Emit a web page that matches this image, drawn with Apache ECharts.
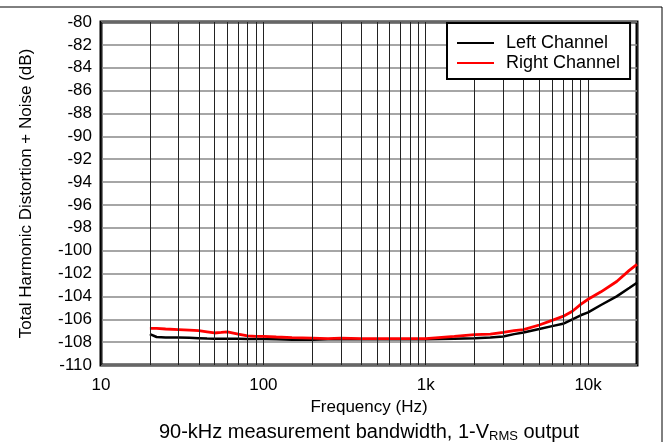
<!DOCTYPE html>
<html>
<head>
<meta charset="utf-8">
<script src="https://cdn.jsdelivr.net/npm/echarts@6/dist/echarts.min.js"></script>
<style>
  html, body { margin: 0; padding: 0; background: #fff; }
  #chart { width: 665px; height: 442px; }
</style>
</head>
<body>
<div id="chart"></div>
<script>
// frequency points (Hz)
var freqs = [20, 22, 25, 30, 35, 40, 45, 50, 55, 60, 70, 80, 90, 100, 120, 150, 200, 250, 300, 400,
             500, 600, 800, 1000, 1500, 2000, 2500, 3000, 3500, 4000, 5000, 6000, 7000, 8000, 9000,
             10000, 12000, 15000, 18000, 20000];
// THD+N (dB)
var leftCh = [-107.3, -107.55, -107.6, -107.6, -107.62, -107.65, -107.68, -107.7, -107.7, -107.7, -107.7, -107.72, -107.72, -107.72, -107.75, -107.8, -107.8, -107.75, -107.75, -107.75,
              -107.75, -107.75, -107.75, -107.75, -107.7, -107.65, -107.6, -107.5, -107.3, -107.15, -106.85, -106.6, -106.4, -106.0, -105.65,
              -105.4, -104.75, -104.0, -103.25, -102.8];
var rightCh = [-106.8, -106.8, -106.85, -106.9, -106.95, -107.0, -107.1, -107.2, -107.15, -107.1, -107.3, -107.45, -107.5, -107.5, -107.55, -107.6, -107.65, -107.7, -107.65, -107.7,
               -107.7, -107.7, -107.7, -107.7, -107.5, -107.35, -107.3, -107.15, -107.0, -106.9, -106.5, -106.1, -105.75, -105.3, -104.7,
               -104.25, -103.6, -102.7, -101.7, -101.2];
// minor log grid lines
var minorFreqs = [20, 30, 40, 50, 60, 70, 80, 90, 200, 300, 400, 500, 600, 700, 800, 900,
                  2000, 3000, 4000, 5000, 6000, 7000, 8000, 9000];
var xTickNames = { 10: '10', 100: '100', 1000: '1k', 10000: '10k' };

var FONT = 'Arial, "Liberation Sans", sans-serif';

function pairs(ys) {
  return freqs.map(function (f, i) { return [f, ys[i]]; });
}

var myChart = echarts.init(document.getElementById('chart'));
var option = {
  animation: false,
  backgroundColor: '#fff',
  grid: {
    left: 101, top: 22, right: 28, bottom: 77,
    show: true, borderColor: '#000', borderWidth: 3
  },
  xAxis: {
    type: 'log', logBase: 10, min: 10, max: 20000,
    name: 'Frequency (Hz)', nameLocation: 'middle', nameGap: 32,
    nameTextStyle: { color: '#000', fontSize: 17, fontFamily: FONT },
    axisLine: { show: false },
    axisTick: { show: false },
    axisLabel: {
      color: '#000', fontSize: 17, fontFamily: FONT, margin: 12,
      showMaxLabel: false,
      formatter: function (v) { return xTickNames[Math.round(v)] || ''; }
    },
    splitLine: { show: true, lineStyle: { color: '#222', width: 1 } }
  },
  yAxis: {
    type: 'value', min: -110, max: -80, interval: 2,
    name: 'Total Harmonic Distortion + Noise (dB)', nameLocation: 'middle', nameGap: 66,
    nameTextStyle: { color: '#000', fontSize: 17, fontFamily: FONT },
    axisLine: { show: false },
    axisTick: { show: false },
    axisLabel: { color: '#000', fontSize: 17, fontFamily: FONT, margin: 9 },
    splitLine: { show: true, lineStyle: { color: '#888', width: 1.5 } }
  },
  legend: {
    orient: 'vertical',
    left: 447, top: 23,
    z: 20,
    padding: [11, 10, 7, 10],
    itemGap: 2,
    itemWidth: 37, itemHeight: 2,
    icon: 'rect',
    backgroundColor: '#fff',
    borderColor: '#000', borderWidth: 2,
    textStyle: { color: '#000', fontSize: 18, fontFamily: FONT, padding: [0, 0, 0, 7], width: 120 },
    data: ['Left Channel', 'Right Channel']
  },
  graphic: [
    { type: 'line', shape: { x1: 0, y1: 7, x2: 662, y2: 7 }, style: { stroke: '#000', lineWidth: 1 } },
    { type: 'line', shape: { x1: 662, y1: 7, x2: 662, y2: 442 }, style: { stroke: '#000', lineWidth: 1 } },
    {
      type: 'text', x: 369, y: 432,
      style: {
        text: '{a|90-kHz measurement bandwidth, 1-V}{s|RMS}{a| output}',
        align: 'center', verticalAlign: 'middle',
        rich: {
          a: { fontSize: 20, fontFamily: FONT, fill: '#000' },
          s: { fontSize: 13, fontFamily: FONT, fill: '#000', padding: [8, 0, 0, 0] }
        }
      }
    }
  ],
  series: [
    {
      type: 'line', silent: true, data: [], z: 1,
      markLine: {
        silent: true, symbol: 'none', animation: false,
        label: { show: false },
        lineStyle: { color: '#222', width: 1, type: 'solid' },
        data: minorFreqs.map(function (f) { return { xAxis: f }; })
      }
    },
    {
      name: 'Left Channel', type: 'line', z: 3,
      data: pairs(leftCh), showSymbol: false,
      lineStyle: { color: '#000', width: 2.5 }, itemStyle: { color: '#000' }
    },
    {
      name: 'Right Channel', type: 'line', z: 4,
      data: pairs(rightCh), showSymbol: false,
      lineStyle: { color: '#ff0000', width: 2.8 }, itemStyle: { color: '#ff0000' }
    }
  ]
};
myChart.setOption(option);
</script>
</body>
</html>
